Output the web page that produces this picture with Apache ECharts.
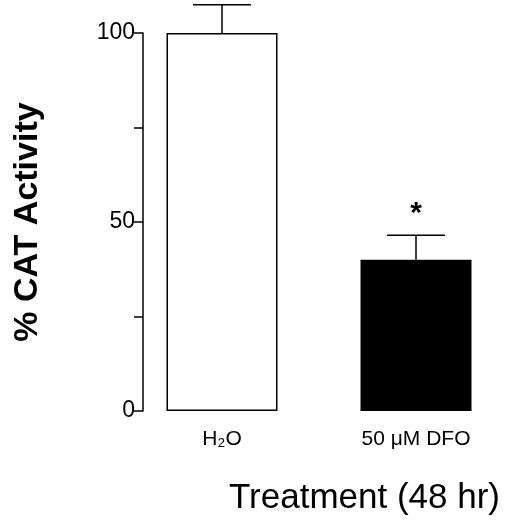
<!DOCTYPE html><html><head><meta charset="utf-8">
<script src="https://cdn.jsdelivr.net/npm/echarts@6/dist/echarts.min.js"></script>
<style>html,body{margin:0;padding:0;background:#fff}#c{width:520px;height:521px}</style></head><body><div id="c"></div>
<script>
const categories = ['H\u2082O', '50 \u03bcM DFO'];
const means = [100, 40];
const errors = [7.5, 6.5];
const marks = ['', '*'];
const yTicks = [0, 50, 100];
const chart = echarts.init(document.getElementById('c'));
chart.setOption({
  animation: false,
  title: {text: 'Treatment (48 hr)', left: 224, top: 476,
    textStyle: {color: '#000', fontSize: 35, fontWeight: 'normal', fontFamily: 'Liberation Sans'}},
  grid: {left: 125, right: 7, top: 33, bottom: 110},
  xAxis: {type: 'category', data: categories,
    axisLine: {show: false}, axisTick: {show: false},
    axisLabel: {color: '#000', fontSize: 21, fontFamily: 'Liberation Sans', margin: 18}},
  yAxis: {type: 'value', min: 0, max: 100, interval: 25, offset: -18,
    axisLine: {show: true, lineStyle: {color: '#000', width: 1.5}},
    axisTick: {show: true, length: 9, lineStyle: {color: '#000', width: 1.5}},
    splitLine: {show: false},
    axisLabel: {color: '#000', fontSize: 23, fontFamily: 'Liberation Sans', margin: 8,
      formatter: v => yTicks.includes(v) ? String(v) : ''},
    name: '% CAT Activity', nameLocation: 'middle', nameGap: 98, nameRotate: 90,
    nameTextStyle: {color: '#000', fontSize: 34, fontFamily: 'Liberation Sans', fontWeight: 'bold'}},
  series: [
    {type: 'bar', barWidth: 111, data: [
      {value: means[0], itemStyle: {color: '#fff', borderColor: '#000', borderWidth: 1.5}},
      {value: means[1], itemStyle: {color: '#000', borderColor: '#000', borderWidth: 1.5}}]},
    {type: 'custom', data: means.map((m, i) => [i, m, errors[i]]), z: 1,
      renderItem: (params, api) => {
        const x = api.value(0), m = api.value(1), e = api.value(2);
        const p0 = api.coord([x, m]), p1 = api.coord([x, m + e]);
        const st = {stroke: '#000', lineWidth: 1.5};
        const ch = [
          {type: 'line', shape: {x1: p0[0], y1: p0[1], x2: p1[0], y2: p1[1]}, style: st},
          {type: 'line', shape: {x1: p1[0] - 29, y1: p1[1], x2: p1[0] + 29, y2: p1[1]}, style: st}];
        const t = marks[params.dataIndex];
        if (t) ch.push({type: 'text', x: p1[0], y: p1[1] - 6,
          style: {text: t, fill: '#000', font: 'bold 30px Liberation Sans', textAlign: 'center', textVerticalAlign: 'bottom'}});
        return {type: 'group', children: ch};
      }}
  ]
});
</script></body></html>
